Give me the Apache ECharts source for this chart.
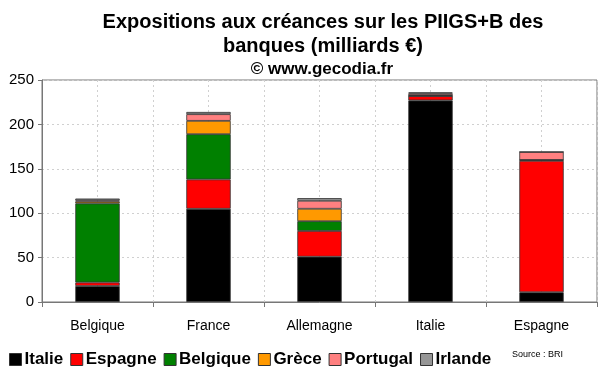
<!DOCTYPE html>
<html><head><meta charset="utf-8">
<script src="https://cdn.jsdelivr.net/npm/echarts@6/dist/echarts.min.js"></script>
<style>html,body{margin:0;padding:0;background:#fff}#c{width:600px;height:372px}</style>
</head><body><div id="c"></div>
<script>
const categories = ['Belgique','France','Allemagne','Italie','Espagne'];
const seriesNames = ['Italie','Espagne','Belgique','Grèce','Portugal','Irlande'];
const italie   = [18, 105, 51, 227, 11];
const espagne  = [4, 33, 29, 5, 148];
const belgique = [89, 51, 11, 0, 1];
const grece    = [2, 15, 14, 1, 0];
const portugal = [1.5, 7.5, 9, 2, 9];
const irlande  = [2, 2.5, 3, 1, 0];
const yTicks = [0, 50, 100, 150, 200, 250];
const colors = ['#000000','#ff0000','#008000','#ff9900','#ff8080','#969696'];
const values = [italie, espagne, belgique, grece, portugal, irlande];

const chart = echarts.init(document.getElementById('c'));
const font = 'Liberation Sans, Arial, sans-serif';
chart.setOption({
  animation: false,
  textStyle: {fontFamily: font},
  title: [
    {text: 'Expositions aux créances sur les PIIGS+B des\nbanques (milliards €)', left: 318, textAlign: 'center', top: 6,
     textStyle: {fontSize: 20, fontWeight: 'bold', color: '#000', lineHeight: 23.5, fontFamily: font}},
    {text: '© www.gecodia.fr', left: 317, textAlign: 'center', top: 56,
     textStyle: {fontSize: 17, fontWeight: 'bold', color: '#000', fontFamily: font}},
    {text: 'Source : BRI', left: 507, top: 345,
     textStyle: {fontSize: 9, fontWeight: 'normal', color: '#000', fontFamily: font}}
  ],
  legend: {
    left: 4, top: 346, itemWidth: 12, itemHeight: 12, itemGap: 7,
    icon: 'rect',
    textStyle: {fontSize: 17, fontWeight: 'bold', color: '#000', padding: [0,0,0,-2], fontFamily: font},
    data: seriesNames.map((n,i)=>({name:n, itemStyle:{borderColor:'#333', borderWidth:1}}))
  },
  grid: {left: 42, right: 3, top: 80, bottom: 70, show: true, borderColor: '#777', borderWidth: 1, containLabel: false},
  xAxis: [
    {type: 'category', data: categories, boundaryGap: true,
     axisLine: {lineStyle: {color: '#777'}},
     axisTick: {show: true, length: 5, lineStyle: {color: '#777'}},
     axisLabel: {fontSize: 14, color: '#000', margin: 17},
     splitLine: {show: false}},
    {type: 'value', min: 0, max: 5, interval: 0.5, show: true, position: 'bottom',
     axisLine: {show: false}, axisTick: {show: false}, axisLabel: {show: false},
     splitLine: {show: true, lineStyle: {color: '#d0d0d0', type: [2,3]}}}
  ],
  yAxis: {type: 'value', min: 0, max: 250, interval: 50,
    axisLine: {show: true, lineStyle: {color: '#777'}},
    axisTick: {show: true, length: 4, lineStyle: {color: '#777'}},
    axisLabel: {fontSize: 15, color: '#000', margin: 8, formatter: v => yTicks.includes(v) ? String(v) : ''},
    splitLine: {show: true, lineStyle: {color: '#d0d0d0', type: [2,3]}}},
  series: seriesNames.map((n,i)=>({
    name: n, type: 'bar', stack: 'total', xAxisIndex: 0, barWidth: '40%',
    data: values[i],
    itemStyle: {color: colors[i], borderColor: '#333', borderWidth: 0.8}
  }))
});
</script></body></html>
